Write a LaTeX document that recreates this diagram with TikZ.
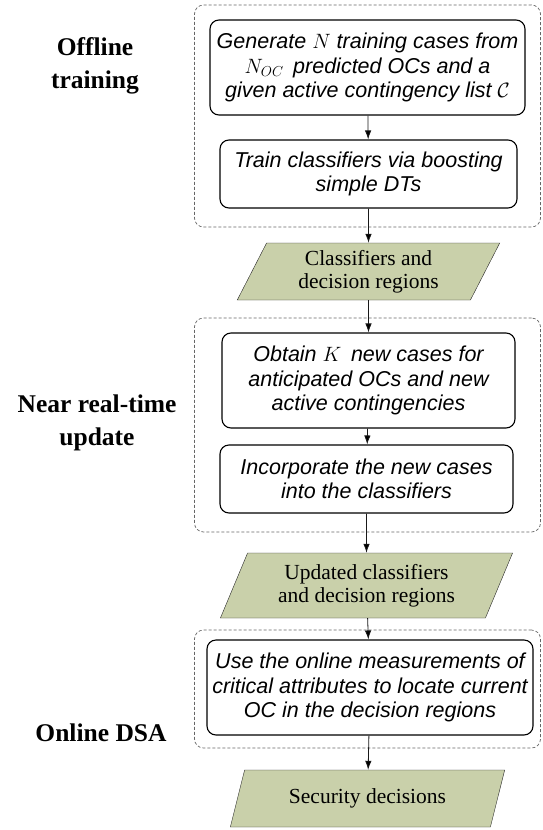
\documentclass[tikz,border=0pt]{standalone}
\usepackage{fontspec}
\setmainfont{Liberation Serif}
\setsansfont{Liberation Sans}
\usetikzlibrary{shapes.geometric,arrows.meta}
\definecolor{datagreen}{RGB}{201,208,170}

\begin{document}
\begin{tikzpicture}[->,>={Latex[length=9pt,width=6.5pt]},x=1pt,y=-1pt]
        \tikzstyle{task}=[rectangle,rounded corners=9pt,line width=1.1pt,draw=black,fill=white,inner sep=0pt,align=center,font=\sffamily\itshape\fontsize{21.5}{24.5}\selectfont]
        \tikzstyle{data}=[trapezium,trapezium left angle=65,trapezium right angle=115,trapezium stretches=true,inner sep=0pt,draw=black!85,fill=datagreen,align=center,font=\fontsize{21.5}{23.5}\selectfont]
        \tikzstyle{stage}=[rectangle,rounded corners=9pt,densely dashed,draw=black!60,line width=0.7pt]
        \tikzstyle{phase}=[align=center,font=\bfseries\fontsize{25.5}{33}\selectfont]
        \tikzstyle{edge}=[draw=black!90, line width=0.8pt]

        \useasboundingbox (0,0) rectangle (542,830);

        % stages
        \node [stage,minimum width=346pt,minimum height=222pt] (g1) at (367.5,116) {};
        \node [stage,minimum width=346pt,minimum height=214pt] (g2) at (367.5,425) {};
        \node [stage,minimum width=346pt,minimum height=118pt] (g3) at (367.5,689) {};

        \node [phase] (p1) at (95,66) {Offline\\training};
        \node [phase] (p2) at (97,423) {Near real-time\\update};
        \node [phase] (p3) at (101,733) {Online DSA};

        % tasks and data
        \node [task,minimum width=315pt,minimum height=95pt] (t1) at (367.5,67.5) {Generate $N$ training cases from\\ $N_{OC}$\, predicted OCs and a\\given active contingency list $\mathcal{C}$};
        \node [task,minimum width=297pt,minimum height=68pt] (t2) at (368.5,174) {Train classifiers via boosting\\simple DTs};
        \node [data,minimum width=263pt,minimum height=57pt] (d1) at (368.5,271.5) {Classifiers and\\decision regions};
        \node [task,minimum width=293pt,minimum height=95pt] (t3) at (368.5,380.5) {Obtain $K$\, new cases for\\anticipated OCs and new\\active contingencies};
        \node [task,minimum width=293pt,minimum height=68pt] (t4) at (366.5,479) {Incorporate the new cases\\into the classifiers};
        \node [data,minimum width=293pt,minimum height=65pt] (d2) at (366.5,585.5) {Updated classifiers\\and decision regions};
        \node [task,minimum width=326pt,minimum height=95pt] (t5) at (370,687.5) {Use the online measurements of\\critical attributes to locate current\\OC in the decision regions};
        \node [data,minimum width=275pt,minimum height=57pt] (d3) at (367.5,798.5) {Security decisions};

        \path[edge] (t1) edge (t2);
        \path[edge] (t2) edge (d1);
        \path[edge] (d1) edge (t3);
        \path[edge] (t3) edge (t4);
        \path[edge] (t4) edge (d2);
        \path[edge] (d2) edge (t5);
        \path[edge] (t5) edge (d3);
\end{tikzpicture}
\end{document}
